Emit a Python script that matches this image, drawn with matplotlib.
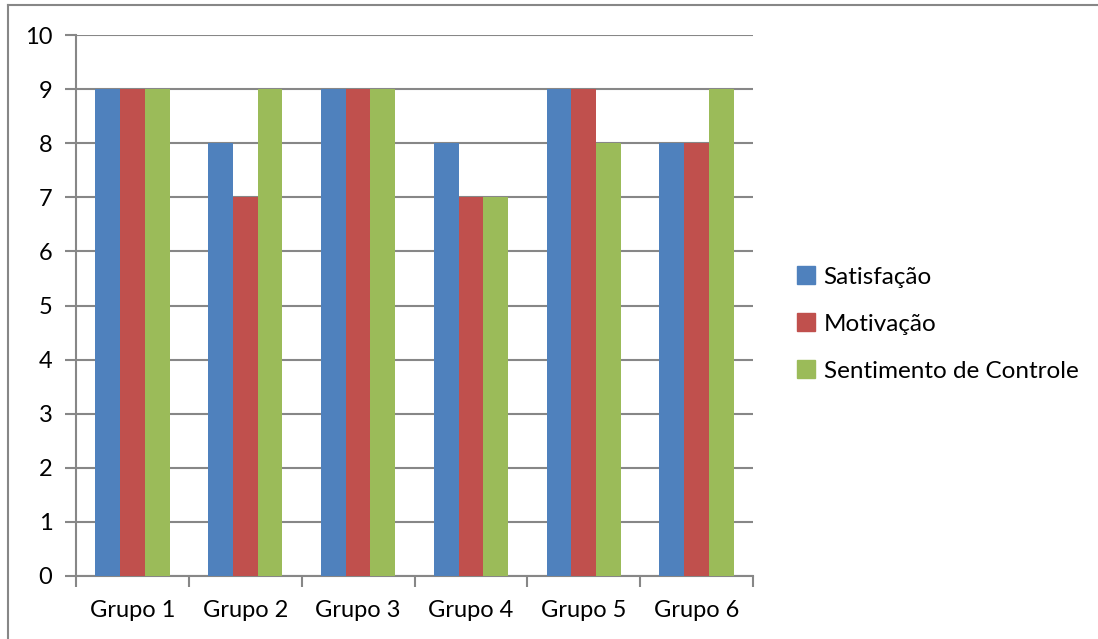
import matplotlib.pyplot as plt
import numpy as np
from matplotlib.patches import Rectangle
from matplotlib.lines import Line2D

grupos = ["Grupo 1", "Grupo 2", "Grupo 3", "Grupo 4", "Grupo 5", "Grupo 6"]
satisfacao = [9, 8, 9, 8, 9, 8]
motivacao = [9, 7, 9, 7, 9, 8]
sentimento_controle = [9, 9, 9, 7, 8, 9]
series_names = ["Satisfação", "Motivação", "Sentimento de Controle"]
series_colors = ["#4F81BD", "#C0504D", "#9BBB59"]

plt.rcParams['font.family'] = ['Lato', 'DejaVu Sans']
grid_color = "#878787"

fig = plt.figure(figsize=(10.98, 6.39), dpi=100)
ax = fig.add_axes([76 / 1098, 1 - 576 / 639, 677 / 1098, 541 / 639])

x = np.arange(len(grupos))
width = 0.22
for i, (vals, name, color) in enumerate(zip([satisfacao, motivacao, sentimento_controle], series_names, series_colors)):
    ax.bar(x + (i - 1) * width, vals, width, color=color, label=name, zorder=3)

ax.set_xlim(-0.5, len(grupos) - 0.5)
ax.set_ylim(0, 10)
ax.set_yticks(range(0, 11))
ax.yaxis.grid(True, color=grid_color, linewidth=1.5, zorder=0)

# category ticks sit on the group boundaries, labels in the middle
ax.set_xticks(np.arange(-0.5, len(grupos)), minor=False)
ax.set_xticklabels([])
ax.set_xticks(x, minor=True)
ax.set_xticklabels(grupos, minor=True)
ax.tick_params(axis='x', which='minor', length=0, pad=17, labelsize=17)
ax.tick_params(axis='x', which='major', length=8, width=1.5, color=grid_color, direction='out')
ax.tick_params(axis='y', length=8, width=1.5, color=grid_color, labelsize=17, pad=9)

for side in ['top', 'right']:
    ax.spines[side].set_visible(False)
for side in ['left', 'bottom']:
    ax.spines[side].set_color(grid_color)
    ax.spines[side].set_linewidth(1.5)

handles = [Rectangle((0, 0), 1, 1, color=c) for c in series_colors]
fig.legend(handles, series_names, loc='center left', bbox_to_anchor=(775 / 1098, 1 - 324 / 639),
           frameon=False, fontsize=17.5, handlelength=0.75, handleheight=0.75,
           handletextpad=0.35, labelspacing=1.05)

# outer chart border (top and left edges)
fig.add_artist(Line2D([8 / 1098, 8 / 1098], [0, 1 - 5 / 639], color=grid_color, linewidth=1.5))
fig.add_artist(Line2D([8 / 1098, 1], [1 - 5 / 639, 1 - 5 / 639], color=grid_color, linewidth=1.5))

fig.savefig("out.png", dpi=100)
